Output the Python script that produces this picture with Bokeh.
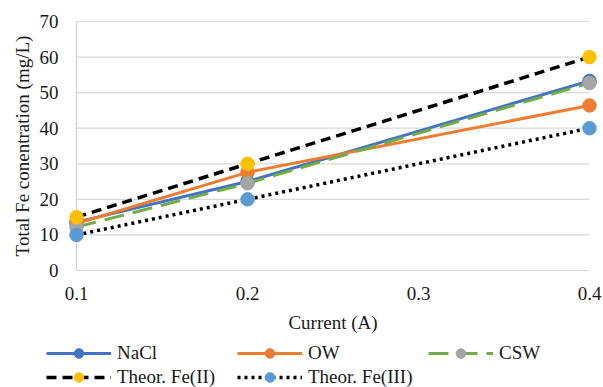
import math
from bokeh.plotting import figure
from bokeh.models import Range1d, Legend, LegendItem
from bokeh.core.properties import value
from bokeh.embed import file_html
from bokeh.resources import INLINE

current = [0.1, 0.2, 0.4]
nacl = [13.6, 25.0, 53.3]
ow = [13.2, 27.6, 46.4]
csw = [12.2, 24.5, 52.7]
theor_fe2 = [15.0, 30.0, 60.0]
theor_fe3 = [10.0, 20.0, 40.0]
x_ticks = [0.1, 0.2, 0.3, 0.4]
x_tick_labels = ["0.1", "0.2", "0.3", "0.4"]
y_ticks = [0, 10, 20, 30, 40, 50, 60, 70]
y_tick_labels = ["0", "10", "20", "30", "40", "50", "60", "70"]
series_names = ["NaCl", "OW", "CSW", "Theor. Fe(II)", "Theor. Fe(III)"]
x_title = "Current (A)"
y_title = "Total Fe conentration (mg/L)"

FONT = "Liberation Serif"
TXT = "#1a1a1a"
FS = "19px"

# styles: (line colour, line width, dash, marker colour)
styles = [
    ("#4472c4", 3, "solid", "#4472c4"),
    ("#ed7d31", 3, "solid", "#ed7d31"),
    ("#70ad47", 3, "20 9", "#a5a5a5"),
    ("black", 3.5, "10 6", "#ffc000"),
    ("black", 3.5, "3 4", "#5b9bd5"),
]
MS = 13.5

W, H = 603, 387
# plot area in pixels: left 76, right 589, top 21, bottom 270
L, R, T, B = 76, 589, 21, 270
xs = (R - L) / (x_ticks[-1] - x_ticks[0])
ys = (B - T) / (y_ticks[-1] - y_ticks[0])

p = figure(width=W, height=H, output_backend="svg", toolbar_location=None,
           x_range=Range1d(x_ticks[0] - L / xs, x_ticks[-1] + (W - R) / xs),
           y_range=Range1d(y_ticks[0] - (H - B) / ys, y_ticks[-1] + T / ys),
           x_axis_location=None, y_axis_location=None,
           min_border_left=0, min_border_right=0, min_border_top=0, min_border_bottom=0)
p.outline_line_color = None
p.xgrid.grid_line_color = None
p.ygrid.grid_line_color = None

# gridlines and axis lines over the data area
p.segment(x0=x_ticks[0], x1=x_ticks[-1], y0=y_ticks, y1=y_ticks,
          line_color="#d9d9d9", line_width=1.2)
p.segment(x0=x_ticks[0], x1=x_ticks[0], y0=y_ticks[0], y1=y_ticks[-1],
          line_color="#d0d0d0", line_width=1.2)

# tick labels
p.text(x=[x_ticks[0]] * len(y_ticks), y=y_ticks, text=y_tick_labels,
       x_offset=-18, text_align="right", text_baseline="middle",
       text_font=value(FONT), text_font_size=value(FS), text_color=TXT)
p.text(x=x_ticks, y=[y_ticks[0]] * len(x_ticks), text=x_tick_labels,
       y_offset=23, text_align="center", text_baseline="middle",
       text_font=value(FONT), text_font_size=value(FS), text_color=TXT)
# axis titles
p.text(x=[(x_ticks[0] + x_ticks[-1]) / 2], y=[y_ticks[0]], text=[x_title],
       y_offset=52, text_align="center", text_baseline="middle",
       text_font=value(FONT), text_font_size=value(FS), text_color=TXT)
p.text(x=[x_ticks[0]], y=[(y_ticks[0] + y_ticks[-1]) / 2], text=[y_title],
       x_offset=-54, angle=math.pi / 2, text_align="center", text_baseline="middle",
       text_font=value(FONT), text_font_size=value(FS), text_color=TXT)

items = []
for name, ysr, (lc, lw, dash, mc) in zip(series_names, [nacl, ow, csw, theor_fe2, theor_fe3], styles):
    lr = p.line(current, ysr, line_color=lc, line_width=lw, line_dash=dash)
    mr = p.scatter(current, ysr, size=MS, fill_color=mc, line_color=mc)
    items.append(LegendItem(label=name, renderers=[lr, mr]))

legend = Legend(items=items, orientation="horizontal", ncols=3, location=(46, -2))
legend.padding = 0
legend.margin = 0
legend.spacing = 0
legend.glyph_width = 65
legend.glyph_height = 24
legend.label_height = 24
legend.label_width = 120
legend.label_standoff = 6
legend.label_text_font = FONT
legend.label_text_font_size = FS
legend.label_text_color = TXT
legend.border_line_color = None
legend.background_fill_alpha = 0
p.add_layout(legend, "center")

open("out.html", "w").write(file_html(p, INLINE))
